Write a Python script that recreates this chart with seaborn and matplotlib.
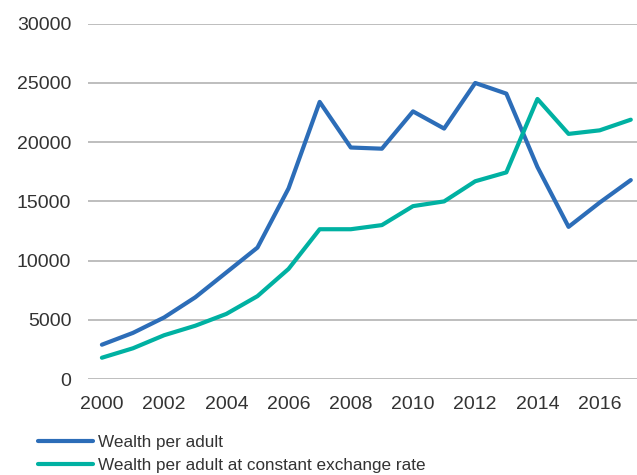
import pandas as pd
import matplotlib
matplotlib.use("Agg")
import matplotlib.pyplot as plt
import seaborn as sns

years = list(range(2000, 2018))
wealth_per_adult = [2900, 3900, 5200, 6900, 9000, 11100, 16100, 23400, 19550, 19450,
                    22600, 21150, 25000, 24100, 17900, 12850, 14900, 16800]
wealth_constant_fx = [1800, 2600, 3700, 4500, 5500, 7000, 9300, 12650, 12650, 13000,
                      14600, 15000, 16700, 17450, 23650, 20700, 21000, 21900]
series_names = ["Wealth per adult", "Wealth per adult at constant exchange rate"]
y_ticks = [0, 5000, 10000, 15000, 20000, 25000, 30000]
x_ticks = list(range(2000, 2017, 2))

df = pd.DataFrame({
    "year": years * 2,
    "value": wealth_per_adult + wealth_constant_fx,
    "series": [series_names[0]] * len(years) + [series_names[1]] * len(years),
})

sns.set_theme(style="white")
plt.rcParams["font.family"] = ["Liberation Sans", "DejaVu Sans"]
text_color = "#333333"

fig = plt.figure(figsize=(6.37, 4.75), dpi=100)
ax = fig.add_axes([0.138, 0.202, 0.862, 0.748])

palette = {series_names[0]: "#2c6db8", series_names[1]: "#00b1a2"}
sns.lineplot(data=df, x="year", y="value", hue="series", palette=palette,
             linewidth=3, ax=ax, legend=False)

ax.set_ylim(0, 30000)
ax.set_xlim(1999.55, 2017.2)
ax.set_yticks(y_ticks)
ax.set_xticks(x_ticks)
ax.set_xlabel("")
ax.set_ylabel("")
ax.grid(axis="y", color="#b3b3b3", linewidth=1.2)
ax.set_axisbelow(True)
for s in ax.spines.values():
    s.set_visible(False)
ax.tick_params(axis="both", length=0, labelsize=14, colors=text_color)
ax.tick_params(axis="y", pad=12)
ax.tick_params(axis="x", pad=12)

handles = [plt.Line2D([0], [0], color=palette[n], linewidth=3) for n in series_names]
fig.legend(handles, series_names, loc="upper left", bbox_to_anchor=(0.06, 0.084),
           frameon=False, fontsize=12.3, handlelength=3.2, handletextpad=0.3,
           labelspacing=0.45, borderaxespad=0, borderpad=0, labelcolor=text_color)

fig.savefig("out.png", dpi=100)
